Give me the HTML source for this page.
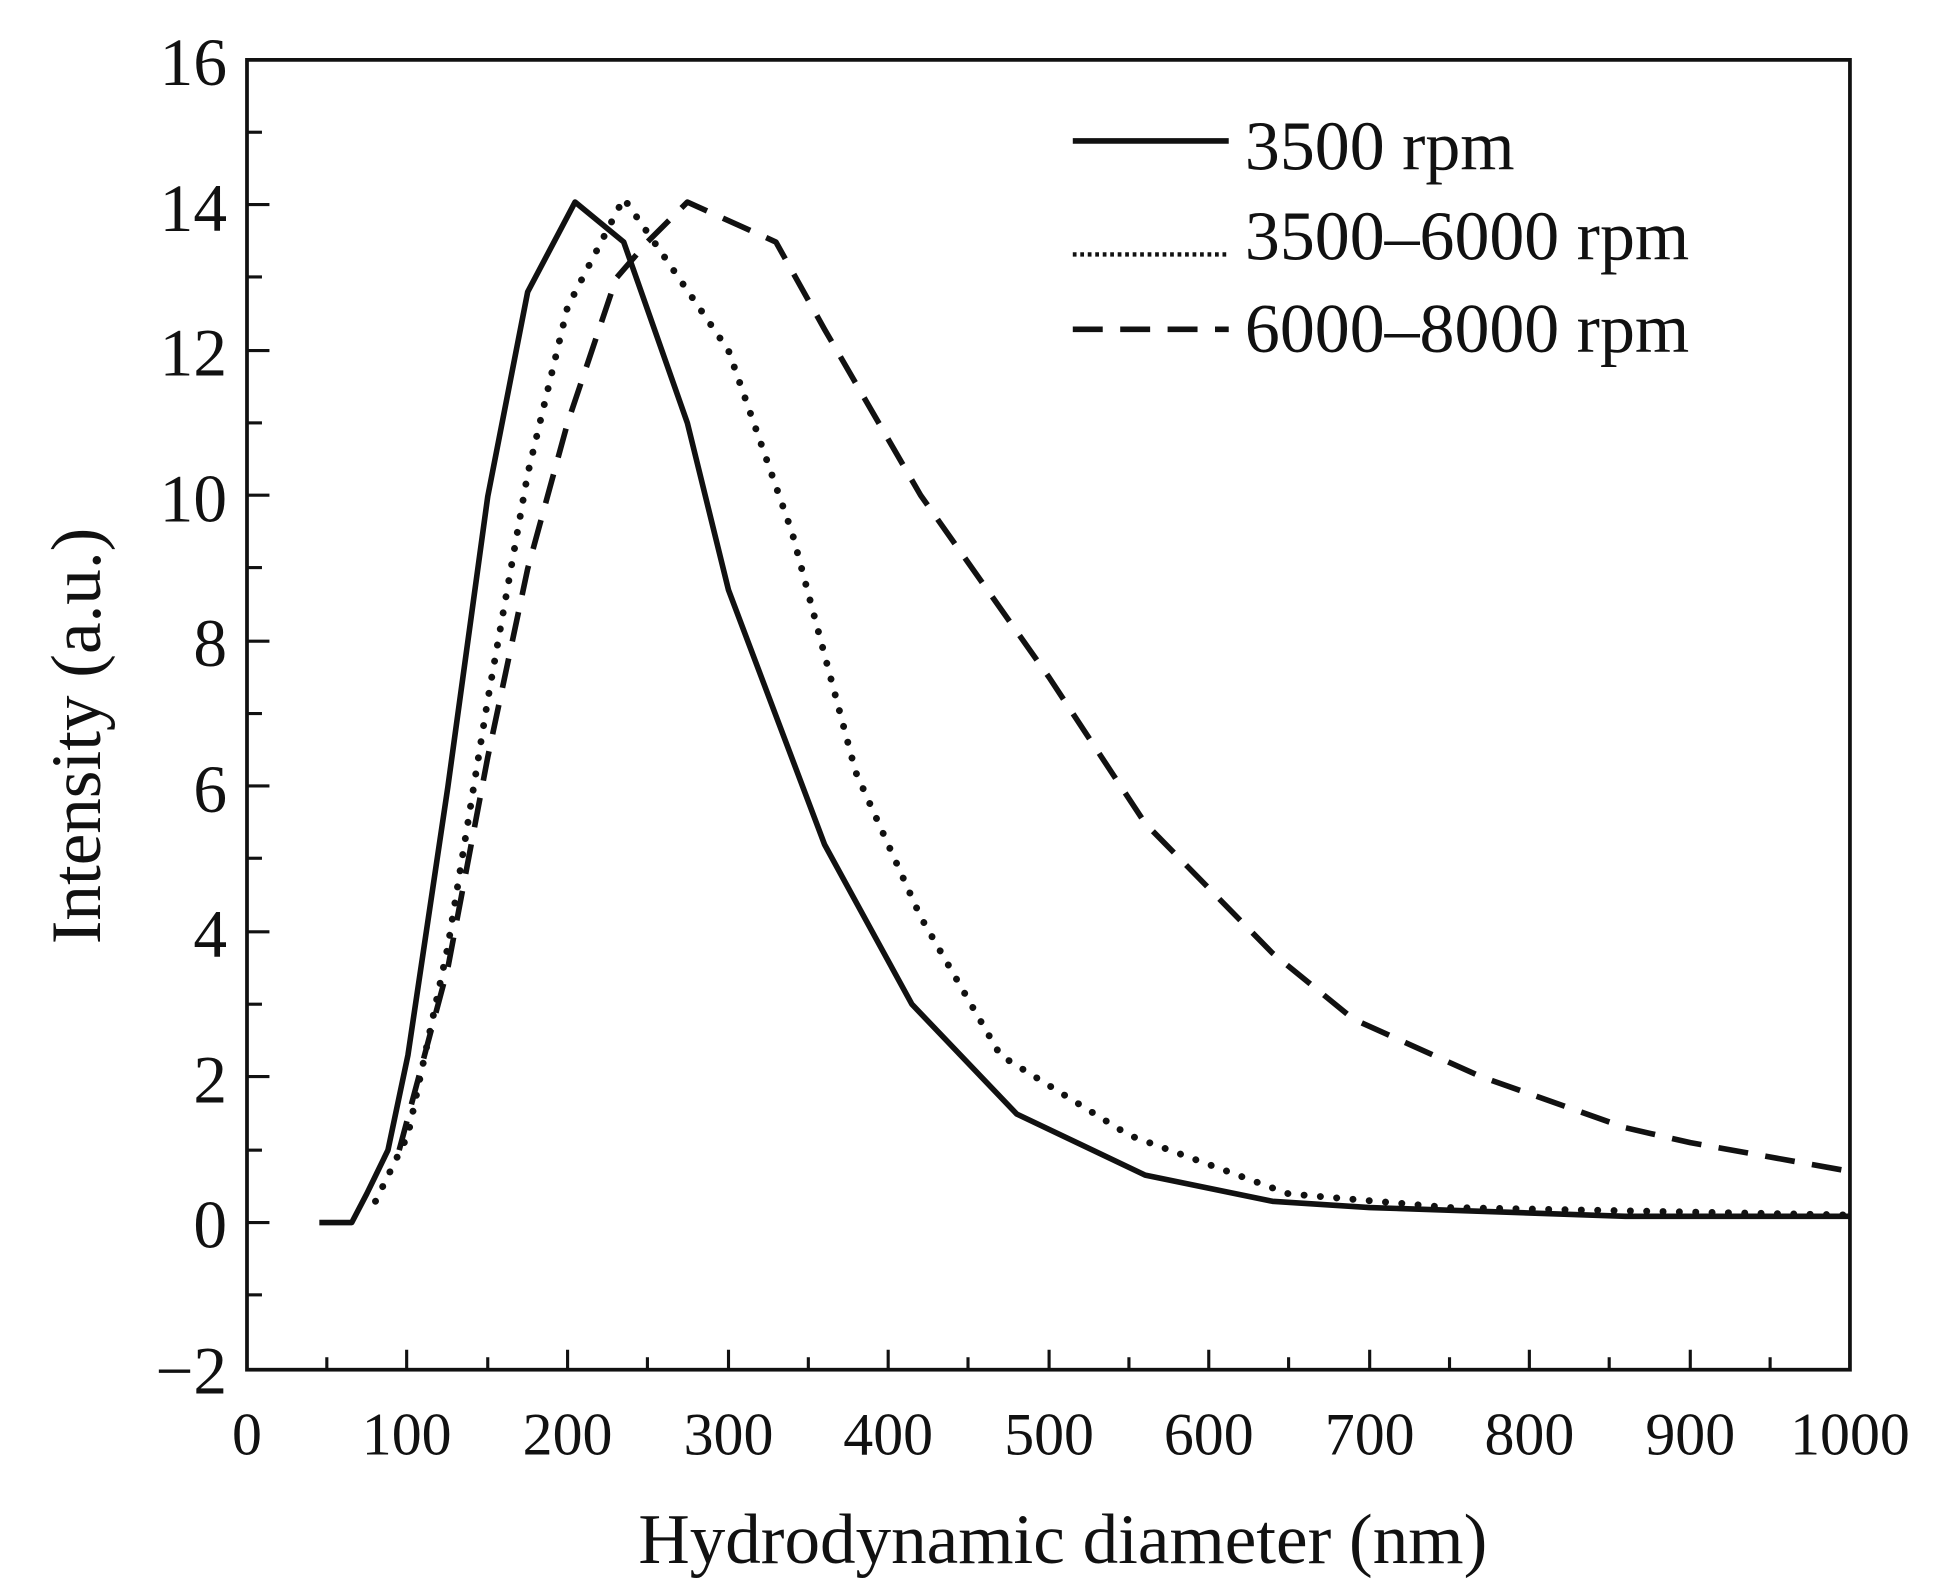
<!DOCTYPE html>
<html><head><style>html,body{margin:0;padding:0;background:#fff}svg{display:block}</style></head><body>
<svg width="1946" height="1593" viewBox="0 0 1560 1277" preserveAspectRatio="none" xmlns="http://www.w3.org/2000/svg" font-family="Liberation Serif, serif" fill="#111">
<rect x="198" y="48" width="1285" height="1050" fill="none" stroke="#111" stroke-width="3"/>
<g stroke="#111" stroke-width="2.5">
<line x1="198" y1="106" x2="210" y2="106"/><line x1="198" y1="164" x2="216" y2="164"/><line x1="198" y1="222" x2="210" y2="222"/><line x1="198" y1="281" x2="216" y2="281"/><line x1="198" y1="339" x2="210" y2="339"/><line x1="198" y1="397" x2="216" y2="397"/><line x1="198" y1="455" x2="210" y2="455"/><line x1="198" y1="514" x2="216" y2="514"/><line x1="198" y1="572" x2="210" y2="572"/><line x1="198" y1="630" x2="216" y2="630"/><line x1="198" y1="688" x2="210" y2="688"/><line x1="198" y1="747" x2="216" y2="747"/><line x1="198" y1="805" x2="210" y2="805"/><line x1="198" y1="863" x2="216" y2="863"/><line x1="198" y1="922" x2="210" y2="922"/><line x1="198" y1="980" x2="216" y2="980"/><line x1="198" y1="1038" x2="210" y2="1038"/>
<line x1="262" y1="1098" x2="262" y2="1088"/><line x1="326" y1="1098" x2="326" y2="1082"/><line x1="391" y1="1098" x2="391" y2="1088"/><line x1="455" y1="1098" x2="455" y2="1082"/><line x1="519" y1="1098" x2="519" y2="1088"/><line x1="584" y1="1098" x2="584" y2="1082"/><line x1="648" y1="1098" x2="648" y2="1088"/><line x1="712" y1="1098" x2="712" y2="1082"/><line x1="776" y1="1098" x2="776" y2="1088"/><line x1="841" y1="1098" x2="841" y2="1082"/><line x1="905" y1="1098" x2="905" y2="1088"/><line x1="969" y1="1098" x2="969" y2="1082"/><line x1="1033" y1="1098" x2="1033" y2="1088"/><line x1="1098" y1="1098" x2="1098" y2="1082"/><line x1="1162" y1="1098" x2="1162" y2="1088"/><line x1="1226" y1="1098" x2="1226" y2="1082"/><line x1="1290" y1="1098" x2="1290" y2="1088"/><line x1="1355" y1="1098" x2="1355" y2="1082"/><line x1="1419" y1="1098" x2="1419" y2="1088"/>
</g>
<g font-size="54" text-anchor="end">
<text x="182" y="68">16</text><text x="182" y="185">14</text><text x="182" y="301">12</text><text x="182" y="418">10</text><text x="182" y="534">8</text><text x="182" y="651">6</text><text x="182" y="767">4</text><text x="182" y="884">2</text><text x="182" y="1000">0</text><text x="182" y="1117">−2</text>
</g>
<g font-size="48" text-anchor="middle">
<text x="198" y="1166">0</text><text x="326" y="1166">100</text><text x="455" y="1166">200</text><text x="584" y="1166">300</text><text x="712" y="1166">400</text><text x="841" y="1166">500</text><text x="969" y="1166">600</text><text x="1098" y="1166">700</text><text x="1226" y="1166">800</text><text x="1355" y="1166">900</text><text x="1483" y="1166">1000</text>
</g>
<text x="852" y="1253" font-size="57" text-anchor="middle">Hydrodynamic diameter (nm)</text>
<text transform="translate(80,590) rotate(-90)" font-size="57" text-anchor="middle">Intensity (a.u.)</text>
<g fill="none" stroke="#111" stroke-width="4.5" stroke-linejoin="round">
<polyline points="256,980 282,980 294,957 311,922 327,846 359,631 391,398 423,234 461,162 500,194 551,339 584,473 661,677 731,805 815,893 918,942 1020,963 1098,968 1303,975 1483,975"/>
<polyline stroke-dasharray="0.1,13" stroke-linecap="round" stroke-width="5.5" points="301,963 327,910 359,759 391,561 423,380 455,246 500,159 532,205 584,281 635,427 686,619 738,735 802,846 905,910 1033,957 1162,968 1483,974"/>
<polyline stroke-dasharray="24,14" points="320,922 359,776 391,607 423,456 455,339 494,223 519,194 551,162 622,194 661,264 738,397 841,543 918,660 1020,764 1085,817 1187,863 1303,904 1355,916 1483,939"/>
</g>
<g fill="none" stroke="#111" stroke-width="4.5">
<line x1="860" y1="113" x2="985" y2="113"/>
<line x1="860" y1="204" x2="985" y2="204" stroke-dasharray="3,3" stroke-width="3.5"/>
<line x1="860" y1="264" x2="985" y2="264" stroke-dasharray="24,14"/>
</g>
<g font-size="56">
<text x="998" y="136">3500 rpm</text>
<text x="998" y="208">3500–6000 rpm</text>
<text x="998" y="282">6000–8000 rpm</text>
</g>
</svg>
</body></html>
